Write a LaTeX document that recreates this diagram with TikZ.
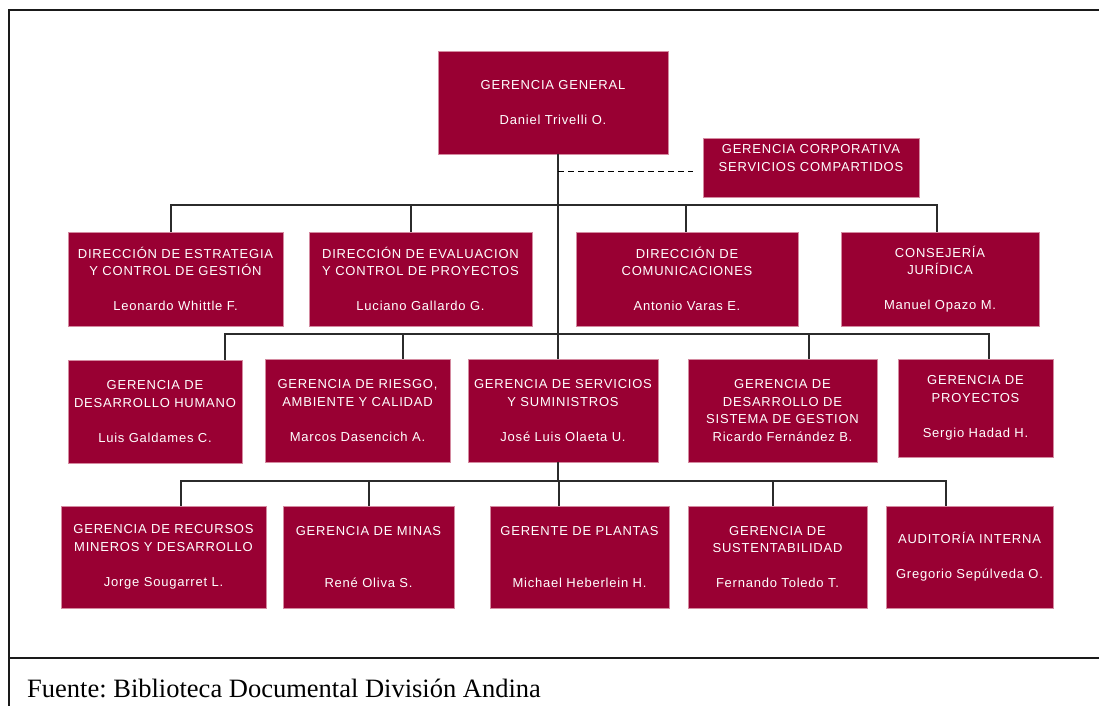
\documentclass[tikz,border=0pt]{standalone}
\usepackage{fontspec}
\setmainfont{Liberation Serif}
\newfontfamily\boxfont[LetterSpace=6]{Liberation Sans}
\frenchspacing
\definecolor{gerencia}{HTML}{990033}
\definecolor{unitedge}{HTML}{D48AA0}
\definecolor{rule}{HTML}{1A1A1A}
\definecolor{conncol}{HTML}{2B2B2B}
\tikzset{
  unit/.style={rectangle, fill=gerencia, draw=unitedge, line width=0.6pt,
    text=white, inner sep=0pt, align=center,
    font=\boxfont\fontsize{13}{17.5}\selectfont},
  conn/.style={draw=conncol, line width=1.4pt},
  frame/.style={draw=rule, line width=2pt},
}
\begin{document}
\begin{tikzpicture}[x=1pt,y=-1pt]
\useasboundingbox (0,0) rectangle (1099,706);

% table frame and footer divider
\coordinate (fTL) at (9,10);
\coordinate (fTR) at (1099,10);
\coordinate (fBL) at (9,706);
\coordinate (dL) at (9,658);
\coordinate (dR) at (1099,658);
\draw[frame] (fTR) -- (fTL) -- (fBL);
\draw[frame] (dL) -- (dR);
\node[anchor=base west, inner sep=0pt, font=\fontsize{26.5}{30}\selectfont] (src) at (27,697)
  {Fuente: Biblioteca Documental División Andina};

% top level
\node[unit, minimum width=230pt, minimum height=103pt] (gg) at (553,102.5)
  {GERENCIA GENERAL\\[17.5pt]Daniel Trivelli O.};
\node[unit, minimum width=216pt, minimum height=59pt] (gcsc) at (811,167.5)
  {GERENCIA CORPORATIVA\\SERVICIOS COMPARTIDOS\\[-4pt]\strut};

% first row
\node[unit, minimum width=215pt, minimum height=94pt] (dEst) at (175.5,279)
  {DIRECCIÓN DE ESTRATEGIA\\Y CONTROL DE GESTIÓN\\[17.5pt]Leonardo Whittle F.};
\node[unit, minimum width=223pt, minimum height=94pt] (dEval) at (420.5,279)
  {DIRECCIÓN DE EVALUACION\\Y CONTROL DE PROYECTOS\\[17.5pt]Luciano Gallardo G.};
\node[unit, minimum width=222pt, minimum height=94pt] (dCom) at (687,279)
  {DIRECCIÓN DE\\COMUNICACIONES\\[17.5pt]Antonio Varas E.};
\node[unit, minimum width=198pt, minimum height=94pt] (cJur) at (940,279)
  {CONSEJERÍA\\JURÍDICA\\[17.5pt]Manuel Opazo M.};

% second row
\node[unit, minimum width=174pt, minimum height=103pt] (gDH) at (155,411.5)
  {GERENCIA DE\\DESARROLLO HUMANO\\[17.5pt]Luis Galdames C.};
\node[unit, minimum width=185pt, minimum height=103pt] (gRAC) at (357.5,410.5)
  {GERENCIA DE RIESGO,\\AMBIENTE Y CALIDAD\\[17.5pt]Marcos Dasencich A.};
\node[unit, minimum width=190pt, minimum height=103pt] (gSS) at (563,410.5)
  {GERENCIA DE SERVICIOS\\Y SUMINISTROS\\[17.5pt]José Luis Olaeta U.};
\node[unit, minimum width=189pt, minimum height=103pt] (gDSG) at (782.5,410.5)
  {GERENCIA DE\\DESARROLLO DE\\SISTEMA DE GESTION\\Ricardo Fernández B.};
\node[unit, minimum width=155pt, minimum height=98pt] (gProy) at (975.5,408)
  {GERENCIA DE\\PROYECTOS\\[17.5pt]Sergio Hadad H.};

% third row
\node[unit, minimum width=205pt, minimum height=102pt] (gRM) at (163.5,557)
  {GERENCIA DE RECURSOS\\MINEROS Y DESARROLLO\\[17.5pt]Jorge Sougarret L.};
\node[unit, minimum width=171pt, minimum height=102pt] (gMin) at (368.5,557)
  {GERENCIA DE MINAS\\[35pt]René Oliva S.};
\node[unit, minimum width=179pt, minimum height=102pt] (gPla) at (579.5,557)
  {GERENTE DE PLANTAS\\[35pt]Michael Heberlein H.};
\node[unit, minimum width=179pt, minimum height=102pt] (gSus) at (777.5,557)
  {GERENCIA DE\\SUSTENTABILIDAD\\[17.5pt]Fernando Toledo T.};
\node[unit, minimum width=167pt, minimum height=102pt] (aInt) at (969.5,557)
  {AUDITORÍA INTERNA\\[17.5pt]Gregorio Sepúlveda O.};

% trunk and bus junctions
\coordinate (t1) at (558,205);
\coordinate (t2) at (558,334);
\coordinate (t3) at (558,481);
\coordinate (td) at (558,171);
\coordinate (tdEnd) at (693,171);

\draw[conn] (gg.south -| t1) -- (t1) -- (t2) -- (gSS.north -| t2);
\draw[conn] (gSS.south -| t3) -- (t3);
\draw[draw=black, line width=1pt, dash pattern=on 6pt off 4pt] (td) -- (tdEnd);

% first bus
\draw[conn] ([xshift=-4.5pt]dEst.north) |- (t1);
\draw[conn] ([xshift=-3pt]cJur.north) |- (t1);
\draw[conn] ([xshift=-9.5pt]dEval.north) -- ([xshift=-9.5pt]dEval.north |- t1);
\draw[conn] ([xshift=-1pt]dCom.north) -- ([xshift=-1pt]dCom.north |- t1);

% second bus
\draw[conn] ([xshift=70pt]gDH.north) |- (t2);
\draw[conn] ([xshift=13.5pt]gProy.north) |- (t2);
\draw[conn] ([xshift=45.5pt]gRAC.north) -- ([xshift=45.5pt]gRAC.north |- t2);
\draw[conn] ([xshift=26.5pt]gDSG.north) -- ([xshift=26.5pt]gDSG.north |- t2);

% third bus
\draw[conn] ([xshift=17.5pt]gRM.north) |- (t3);
\draw[conn] ([xshift=-23.5pt]aInt.north) |- (t3);
\draw[conn] ([xshift=0.5pt]gMin.north) -- ([xshift=0.5pt]gMin.north |- t3);
\draw[conn] ([xshift=-20.5pt]gPla.north) -- ([xshift=-20.5pt]gPla.north |- t3);
\draw[conn] ([xshift=-4.5pt]gSus.north) -- ([xshift=-4.5pt]gSus.north |- t3);
\end{tikzpicture}
\end{document}
